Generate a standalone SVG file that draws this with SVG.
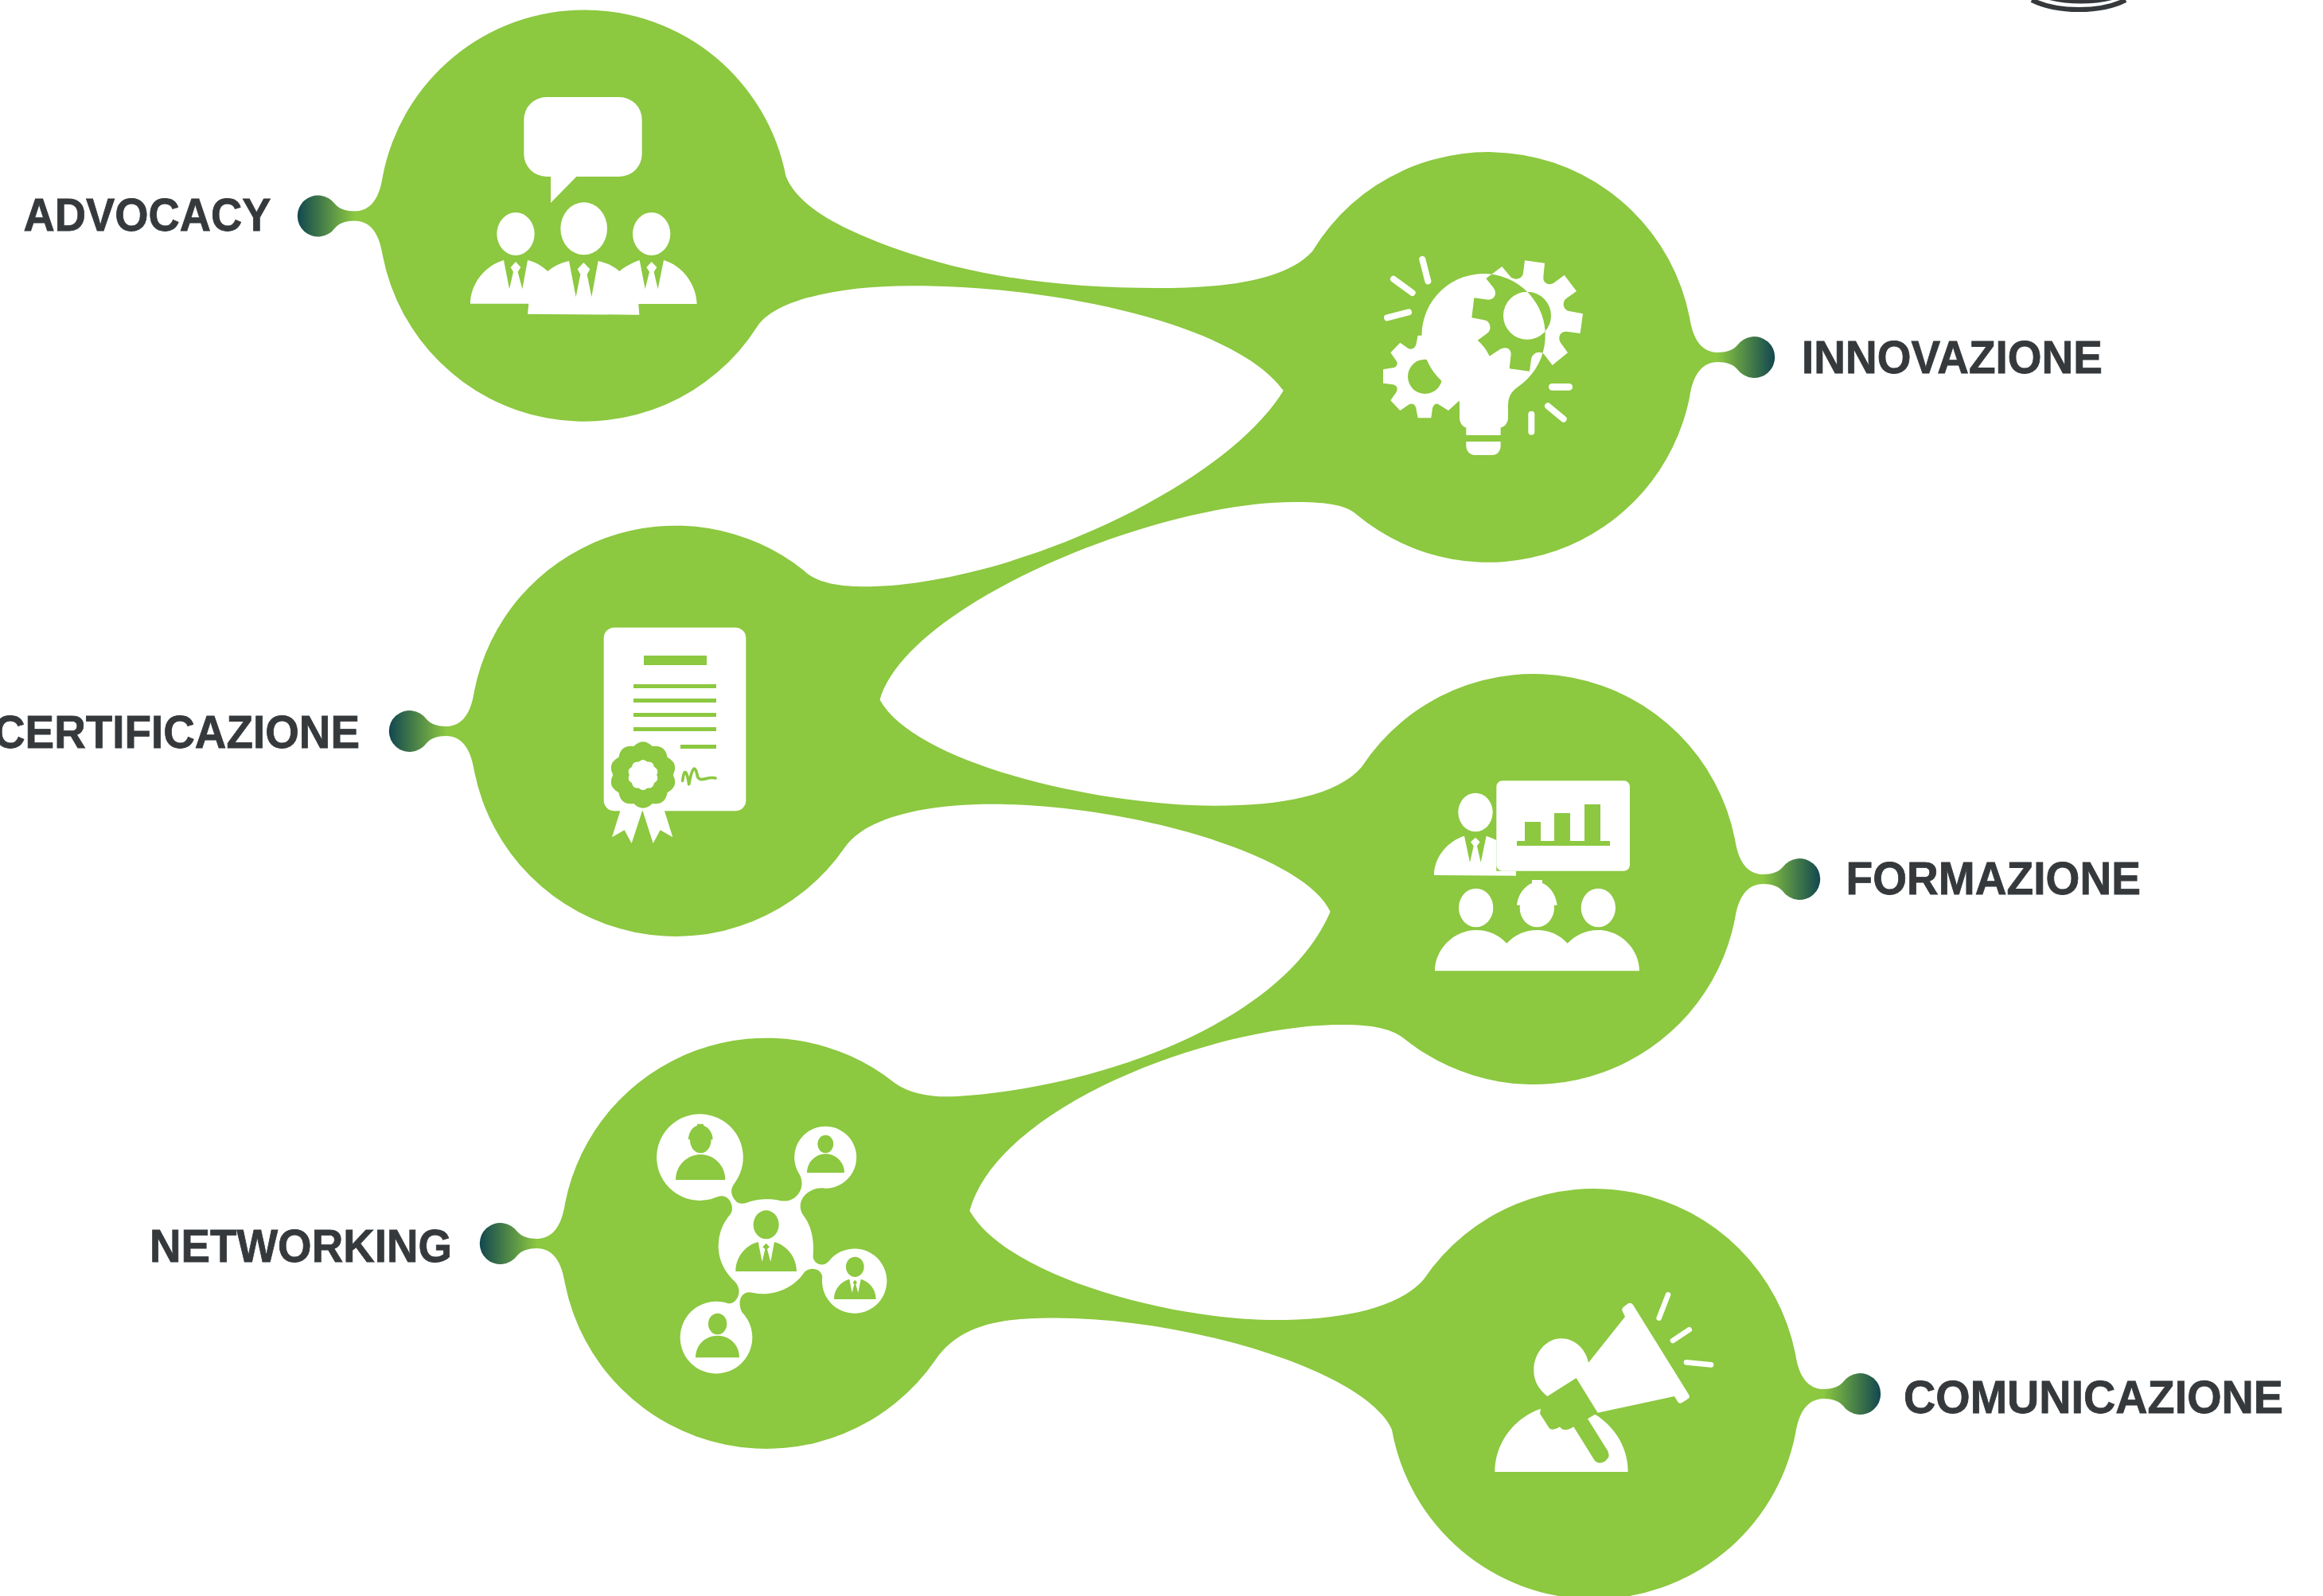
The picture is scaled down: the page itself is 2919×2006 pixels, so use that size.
<svg xmlns="http://www.w3.org/2000/svg" xmlns:xlink="http://www.w3.org/1999/xlink" width="2919" height="2006" viewBox="0 0 2919 2006">
<style>
.g{fill:#8cc840}.w{fill:#fff}
.ray{stroke:#fff;stroke-linecap:round;fill:none}
.lbl{font-family:"Liberation Sans",Arial,sans-serif;font-weight:700;font-size:57px;fill:#35393c;stroke:#35393c;stroke-width:.8px}
</style>
<defs>
<linearGradient id="dg" x1="0" y1="0" x2="1" y2="0"><stop offset="0" stop-color="#8cc840"/><stop offset="1" stop-color="#12474f"/></linearGradient>
<path id="dot" fill="url(#dg)" d="M-1 -6C10 -6 19 -9 24 -15A26 26 0 1 1 24 15C19 9 10 6 -1 6Z"/>
<path id="seal" d="M298 537.4Q345 530.4 353 577.3Q395.2 599.4 374 642Q395.2 684.6 353 706.7Q345 753.6 298 746.6Q264 780 230 746.6Q183 753.6 175 706.7Q132.8 684.6 154 642Q132.8 599.4 175 577.3Q183 530.4 230 537.4Q264 504 298 537.4Z"/>
<path id="bulbShape" d="M485 597A233 233 0 1 1 770 620C745 637 735 660 735 690L735 735C735 755 720 772 707 772L707 801L577 801L577 772C565 770 552 755 552 735L552 680C552 645 515 620 485 597Z"/>
<path id="gearR" d="M798 142L873 152L868 205C866 228 890 240 910 225L947 197L993 258L955 285C935 300 945 330 965 333L1017 343L1007 417L955 410C930 408 920 435 935 455L960 490L902 537L870 495C855 480 825 490 822 515L816 560L740 550L746 495C746 470 720 465 700 480L665 503C655 480 640 460 620 443L655 418C675 405 670 370 645 367L598 358L607 283L660 290C685 290 695 265 680 245L652 210L712 165L745 205C765 220 790 210 792 190Z"/>
<clipPath id="inBulb"><use xlink:href="#bulbShape"/></clipPath>
</defs>
<rect width="2919" height="2006" fill="#fff"/>
<g id="connectors">
<path class="g" d="M481 220.9A258 258 0 0 1 987.5 221.5C1005 265 1070 292 1124 312C1230 350 1340 362 1454 362C1540 362 1615 353 1649 316A258 258 0 0 1 2123 398.4C2128 432 2142 443 2159 443L2159 455C2142 455 2128 466 2123 499.6A258 258 0 0 1 1705 647C1690 633 1660 631 1626.5 631C1450 631 1140 760 1105.5 879.5C1150 960 1380 1012.7 1527 1012.7C1610 1012.7 1680 1000 1711 964A258 258 0 0 1 2180 1054.4C2185 1088 2199 1099 2216 1099L2216 1111C2199 1111 2185 1122 2180 1155.6A258 258 0 0 1 1764.5 1305.4C1745 1290 1715 1288 1685 1288C1530 1288 1256 1387 1218.4 1521.7C1263 1602 1465 1659 1603 1659C1686 1659 1758 1644 1789 1608A258 258 0 0 1 2256 1701.4C2261 1735 2275 1746 2292 1746L2292 1758C2275 1758 2261 1769 2256 1802.6A258 258 0 0 1 1749 1797C1718 1725 1499 1656.5 1323 1656.5C1248 1656.5 1204 1669 1176 1708.5A258 258 0 0 1 710 1613.6C705 1580 691 1569 674 1569L674 1557C691 1557 705 1546 710 1512.4A258 258 0 0 1 1124 1361C1145 1376 1175 1379.6 1202 1378C1370 1368 1610 1290 1671.6 1146C1640 1075 1421 1010.7 1245 1010.7C1170 1010.7 1090 1025 1062 1064.5A258 258 0 0 1 596 969.6C591 936 577 925 560 925L560 913C577 913 591 902 596 868.4A258 258 0 0 1 1010 717C1030 737 1070 738 1100 737C1280 730 1540 610 1612.7 491C1555 410 1335 359.3 1146.6 359.3C1060 359 975 375 951.5 410.5A258 258 0 0 1 481 322.1C476 288 462 277.5 445 277.5L445 265.5C462 265.5 476 255 481 220.9Z"/>
</g>
<g id="node-advocacy">
<use xlink:href="#dot" transform="translate(445 271.5) scale(-1 1)"/>
<text class="lbl" x="29.5" y="290" textLength="311" lengthAdjust="spacingAndGlyphs">ADVOCACY</text>
<g transform="translate(560 100) scale(.33333)" class="w">
<path d="M380 66H655A85 85 0 0 1 740 151V281A85 85 0 0 1 655 366H493L396 465V366H380A85 85 0 0 1 295 281V151A85 85 0 0 1 380 66Z"/>
<ellipse cx="264" cy="582" rx="71" ry="81"/><ellipse cx="521" cy="562" rx="88" ry="99"/><ellipse cx="776" cy="582" rx="71" ry="81"/>
<path d="M93 845C93 770 150 700 219 681L240 790L255 725L245 708L264 687L283 708L272 725L289 790L309 681C340 688 365 705 385 723C405 705 435 690 465 684L491 820L508 735L497 715L520 690L544 715L533 735L550 820L575 684C605 690 635 705 655 723C675 705 705 690 731 681L752 790L768 725L757 708L776 687L796 708L785 725L800 790L822 681C890 700 945 770 947 846L727 846L730 887L309 884L313 845Z"/>
</g>
</g>
<g id="node-innovazione">
<use xlink:href="#dot" transform="translate(2159 449)"/>
<text class="lbl" x="2264" y="468.5" textLength="378" lengthAdjust="spacingAndGlyphs">INNOVAZIONE</text>
<g transform="translate(1650 280) scale(.33333)">
<use xlink:href="#gearR" class="w"/>
<path class="w" d="M395 425H450V520L550 600L552 670L510 708L470 683C460 680 452 690 450 700L445 736H395L388 700C385 685 375 678 362 685L328 708L292 670L313 640C322 625 315 612 300 610L264 605V553L300 547C315 545 322 530 313 520L292 490L328 452L360 475C375 480 385 470 388 460Z"/>
<circle class="g" cx="807" cy="350" r="90"/><circle class="g" cx="422" cy="580" r="65"/>
<use xlink:href="#bulbShape" class="w"/>
<g clip-path="url(#inBulb)"><use xlink:href="#gearR" class="g"/><circle class="w" cx="807" cy="350" r="90"/></g>
<path class="w" d="M577 825H707V840C707 860 695 876 675 876H610C590 876 577 860 577 840Z"/>
<path class="ray" stroke-width="24" d="M412 138L433 220M303 212L374 264M279 358L360 337M823 722V788M885 691L944 740"/>
<path class="ray" stroke-width="26" d="M901 619H965"/>
</g>
</g>
<g id="node-certificazione">
<use xlink:href="#dot" transform="translate(560 919) scale(-1 1)"/>
<text class="lbl" x="-8" y="940" textLength="460" lengthAdjust="spacingAndGlyphs">CERTIFICAZIONE</text>
<g transform="translate(720 760) scale(.33333)">
<path class="w" d="M156 86H612A40 40 0 0 1 652 126V738A40 40 0 0 1 612 778H345L376 877L329 850L302 900L262 775L221 900L194 850L147 877L178 778H156A40 40 0 0 1 116 738V126A40 40 0 0 1 156 86Z"/>
<path class="g" d="M267 192H504V228H267ZM228 300H540V315H228ZM228 354H540V369H228ZM228 408H540V423H228ZM228 462H540V477H228ZM405 528H540V543H405Z"/>
<use xlink:href="#seal" class="g" transform="translate(264 642) scale(1.03) translate(-264 -642)"/>
<use xlink:href="#seal" class="w" transform="translate(264 642) scale(.47) translate(-264 -642)"/>
<path fill="none" stroke="#8cc840" stroke-width="11" stroke-linecap="round" stroke-linejoin="round" d="M413 664C420 610 430 630 437 677C450 610 460 600 470 650C482 672 510 645 537 654"/>
</g>
</g>
<g id="node-formazione">
<use xlink:href="#dot" transform="translate(2216 1105)"/>
<text class="lbl" x="2319.5" y="1124" textLength="370.5" lengthAdjust="spacingAndGlyphs">FORMAZIONE</text>
<g transform="translate(1770 960) scale(.33333)" class="w">
<rect x="331" y="64" width="503" height="340" rx="22"/>
<path class="g" d="M408 291H438V219H498V291H549V186H609V291H663V153H723V291H759V309H408Z"/>
<ellipse cx="252" cy="183" rx="65" ry="73"/>
<path d="M96 420C96 350 150 290 210 272L231 372L245 310L234 295L252 278L269 295L258 310L272 372L293 272C310 278 320 282 331 288V404H405V422Z"/>
<ellipse cx="254" cy="543" rx="65" ry="73"/><ellipse cx="715" cy="543" rx="65" ry="73"/><ellipse cx="484" cy="543" rx="65" ry="73"/>
<path d="M408 533C412 490 440 460 465 450V438H504V450C530 460 555 490 560 533Z"/>
<path d="M99 781C99 700 170 627 255 627C300 627 340 645 370 677C400 645 440 627 484 627C530 627 570 645 599 677C630 645 670 627 715 627C800 627 870 700 870 781Z"/>
</g>
</g>
<g id="node-networking">
<use xlink:href="#dot" transform="translate(674 1563) scale(-1 1)"/>
<text class="lbl" x="188" y="1586" textLength="380" lengthAdjust="spacingAndGlyphs">NETWORKING</text>
<g transform="translate(800 1370) scale(.33333)">
<path class="w" d="M304 403A163 163 0 1 1 370 350C350 375 355 400 375 420C385 430 400 430 415 425C450 410 510 408 540 417C600 430 640 370 615 320A117 117 0 1 1 712 371C650 360 590 420 630 475C660 515 670 570 665 625C662 650 700 675 725 645A122 122 0 1 1 700 705C695 670 650 665 630 690C590 750 510 780 440 765C400 752 375 790 397 838A136 136 0 1 1 345 805C375 810 405 760 370 722A178 178 0 0 1 352 470C375 440 345 385 304 403Z"/>
<g class="g">
<path d="M195 187C195 160 210 140 228 134V128H252V134C270 140 287 160 287 187H281C281 215 265 238 241 238C217 238 201 215 201 187Z"/>
<path d="M147 339C147 285 190 243 241 243C292 243 334 285 334 339Z"/>
<ellipse cx="712" cy="204" rx="30" ry="34"/><path d="M642 312C642 272 675 241 712 241C750 241 783 272 783 312Z"/>
<ellipse cx="488" cy="508" rx="48" ry="54"/><path d="M373 684C373 630 410 585 458 573L473 648L484 600L475 592L488 578L501 592L492 600L505 648L519 573C565 585 603 630 603 684Z"/>
<ellipse cx="823" cy="667" rx="34" ry="38"/><path d="M744 789C744 750 770 722 802 713L812 765L820 733L815 726L823 716L831 726L826 733L835 765L845 713C877 722 902 750 902 789Z"/>
<ellipse cx="305" cy="882" rx="35" ry="40"/><path d="M222 1009C222 960 260 926 305 926C350 926 387 960 387 1009Z"/>
</g>
</g>
</g>
<g id="node-comunicazione">
<use xlink:href="#dot" transform="translate(2292 1752)"/>
<text class="lbl" x="2392" y="1776" textLength="477" lengthAdjust="spacingAndGlyphs">COMUNICAZIONE</text>
<g transform="translate(1860 1600) scale(.33333)">
<path class="w" d="M253 465C215 435 200 400 202 360C205 300 250 247 305 247C355 247 398 285 408 338L546 165L535 142Q533 135 540 128L558 115Q568 110 576 120L786 458Q792 468 785 473L762 488Q750 495 745 486L732 465L443 527L362 396Z"/>
<path class="w" d="M55 750C55 640 130 545 228 512L225 530L260 585Q272 597 300 580Q315 603 352 580L430 705Q445 725 470 710L480 700Q490 690 480 670L405 550L433 533C500 575 557 650 557 750Z"/>
<path class="ray" stroke-width="20" d="M674 170L708 82M726 255L788 214M777 337L870 346"/>
</g>
</g>
<g id="logo-fragment">
<path fill="none" stroke="#35393c" stroke-width="6" d="M2553 0C2585 16 2640 16 2671 0"/>
<path fill="#35393c" d="M2575 0C2600 6 2630 6 2654 0Z"/>
</g>
</svg>
